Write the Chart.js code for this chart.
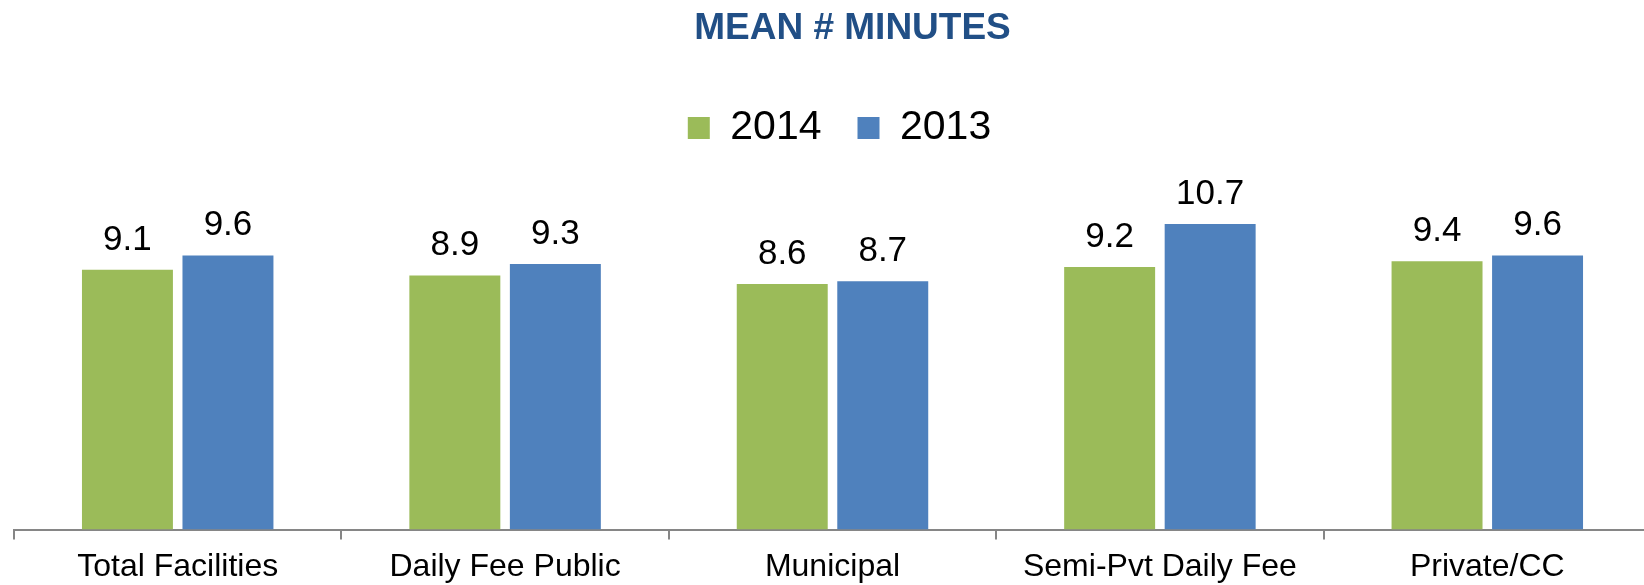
<!DOCTYPE html>
<html>
<head>
<meta charset="utf-8">
<script src="https://cdn.jsdelivr.net/npm/chart.js@4"></script>
<style>
    html, body { margin: 0; padding: 0; background: #fff; overflow: hidden; }
    #wrap { position: relative; width: 1680px; height: 585px; }
</style>
</head>
<body>
<div id="wrap"><canvas id="meanChart"></canvas></div>
<script>
const categories = ["Total Facilities", "Daily Fee Public", "Municipal", "Semi-Pvt Daily Fee", "Private/CC"];
const seriesNames = ["2014", "2013"];
const values2014 = [9.1, 8.9, 8.6, 9.2, 9.4];
const values2013 = [9.6, 9.3, 8.7, 10.7, 9.6];

const fontFamily = "'Liberation Sans', Arial, sans-serif";
const axisGray = "#868686";

// draws the number above each bar
const valueLabels = {
    id: "valueLabels",
    afterDatasetsDraw(chart) {
        const ctx = chart.ctx;
        ctx.save();
        ctx.font = "35px " + fontFamily;
        ctx.fillStyle = "#000";
        ctx.textAlign = "center";
        ctx.textBaseline = "alphabetic";
        chart.data.datasets.forEach((ds, i) => {
            chart.getDatasetMeta(i).data.forEach((bar, j) => {
                ctx.fillText(ds.data[j].toFixed(1), bar.x, bar.y - 20);
            });
        });
        ctx.restore();
    }
};

// title and legend sit a bit right of the plot centre in the original
const nudgeHeader = {
    id: "nudgeHeader",
    afterLayout(chart) {
        if (chart.titleBlock) chart.titleBlock.left += 40;
        if (chart.legend) chart.legend.left += 14;
    }
};

const ctx = document.getElementById("meanChart").getContext("2d");
new Chart(ctx, {
    type: "bar",
    data: {
        labels: categories,
        datasets: [
            {
                label: seriesNames[0],
                data: values2014,
                backgroundColor: "#9BBB59",
                borderWidth: 0,
                categoryPercentage: 0.614,
                barPercentage: 0.905
            },
            {
                label: seriesNames[1],
                data: values2013,
                backgroundColor: "#4F81BD",
                borderWidth: 0,
                categoryPercentage: 0.614,
                barPercentage: 0.905
            }
        ]
    },
    options: {
        responsive: true,
        maintainAspectRatio: false,
        animation: false,
        layout: { padding: { left: 14, right: 29, top: 0, bottom: -9 } },
        plugins: {
            title: {
                display: true,
                text: "MEAN # MINUTES",
                color: "#214F86",
                font: { family: fontFamily, size: 37, weight: "bold" },
                padding: { top: 7, bottom: 20 }
            },
            legend: {
                display: true,
                labels: {
                    color: "#000",
                    font: { family: fontFamily, size: 41 },
                    boxWidth: 22,
                    boxHeight: 22,
                    padding: 36
                }
            },
            tooltip: { enabled: false }
        },
        scales: {
            x: {
                grid: {
                    display: true,
                    drawOnChartArea: false,
                    drawTicks: true,
                    tickLength: 10,
                    color: axisGray,
                    lineWidth: 2
                },
                border: { display: true, color: axisGray, width: 2 },
                ticks: {
                    color: "#000",
                    font: { family: fontFamily, size: 32 },
                    padding: 8,
                    maxRotation: 0
                }
            },
            y: {
                display: false,
                min: 0,
                max: 13
            }
        }
    },
    plugins: [valueLabels, nudgeHeader]
});
</script>
</body>
</html>
